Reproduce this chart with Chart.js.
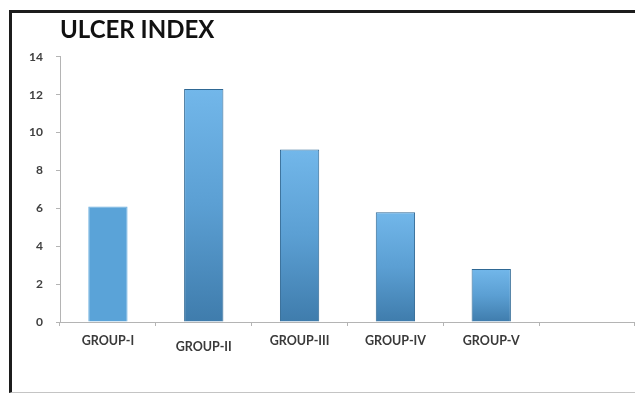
<!DOCTYPE html>
<html>
<head>
<meta charset="utf-8">
<script src="https://cdn.jsdelivr.net/npm/chart.js@4/dist/chart.umd.min.js"></script>
<style>
  html, body { margin: 0; padding: 0; background: #fff; }
  #wrap { position: relative; width: 635px; height: 395px; overflow: hidden; }
  #frame {
    position: absolute; left: 9px; top: 10px; width: 640px; height: 379px;
    border-left: 3px solid #1c1c1c; border-top: 3px solid #1c1c1c;
    border-bottom: 1px solid #c4c4c4; pointer-events: none;
  }
  canvas { position: absolute; left: 0; top: 0; }
</style>
</head>
<body>
<div id="wrap">
  <canvas id="chart" width="635" height="395"></canvas>
  <div id="frame"></div>
</div>
<script>
const groups = ["GROUP-I", "GROUP-II", "GROUP-III", "GROUP-IV", "GROUP-V", ""];
const ulcerIndex = [6.1, 12.3, 9.1, 5.8, 2.8, null];
const yTicks = [0, 2, 4, 6, 8, 10, 12, 14];

// vertical shading per bar, lighter at the top, darker at the base
function barFill(ctx) {
  const chart = ctx.chart;
  const y = chart.scales.y;
  const v = ctx.raw;
  if (!y || v == null) return '#5aa2d6';
  if (ctx.dataIndex === 0) return '#5aa3d8';
  const top = y.getPixelForValue(v);
  const base = y.getPixelForValue(0);
  const g = chart.ctx.createLinearGradient(0, top, 0, base);
  g.addColorStop(0, '#72b7ea');
  g.addColorStop(0.5, '#5b9fd3');
  g.addColorStop(1, '#3f7cac');
  return g;
}

new Chart(document.getElementById('chart'), {
  type: 'bar',
  data: {
    labels: groups,
    datasets: [{
      data: ulcerIndex,
      backgroundColor: barFill,
      borderColor: ctx => ctx.dataIndex === 0 ? '#6aaee0' : '#2f6894',
      borderWidth: 1,
      borderSkipped: 'bottom',
      barPercentage: 0.5,
      categoryPercentage: 0.82
    }]
  },
  options: {
    responsive: false,
    animation: false,
    layout: { padding: 0 },
    plugins: {
      legend: { display: false },
      tooltip: { enabled: false },
      title: {
        display: true,
        text: 'ULCER INDEX',
        align: 'start',
        fullSize: false,
        color: '#111',
        font: { family: 'Lato', size: 24, weight: 'bold', lineHeight: 1.2 },
        padding: { top: 16, bottom: 12 }
      }
    },
    scales: {
      x: {
        grid: { drawOnChartArea: false, drawTicks: true, tickLength: 4, color: '#b4b4b4' },
        border: { color: '#b4b4b4', width: 1 },
        ticks: {
          color: '#3a3a3a',
          padding: 7,
          maxRotation: 0,
          autoSkip: false,
          font: ctx => ({
            family: 'Lato', size: 12.5, weight: 'bold',
            lineHeight: ctx.index === 1 ? 2.3 : 1.2
          })
        },
        afterFit: s => { s.height = 73; }
      },
      y: {
        min: 0,
        max: 14,
        afterBuildTicks: s => { s.ticks = yTicks.map(v => ({ value: v })); },
        grid: { drawOnChartArea: false, drawTicks: true, tickLength: 4, color: '#b4b4b4' },
        border: { color: '#b4b4b4', width: 1 },
        ticks: {
          color: '#404040',
          padding: 13,
          font: { family: 'Lato', size: 12, weight: 'bold' }
        },
        afterFit: s => { s.width = 60; }
      }
    }
  }
});
</script>
</body>
</html>
